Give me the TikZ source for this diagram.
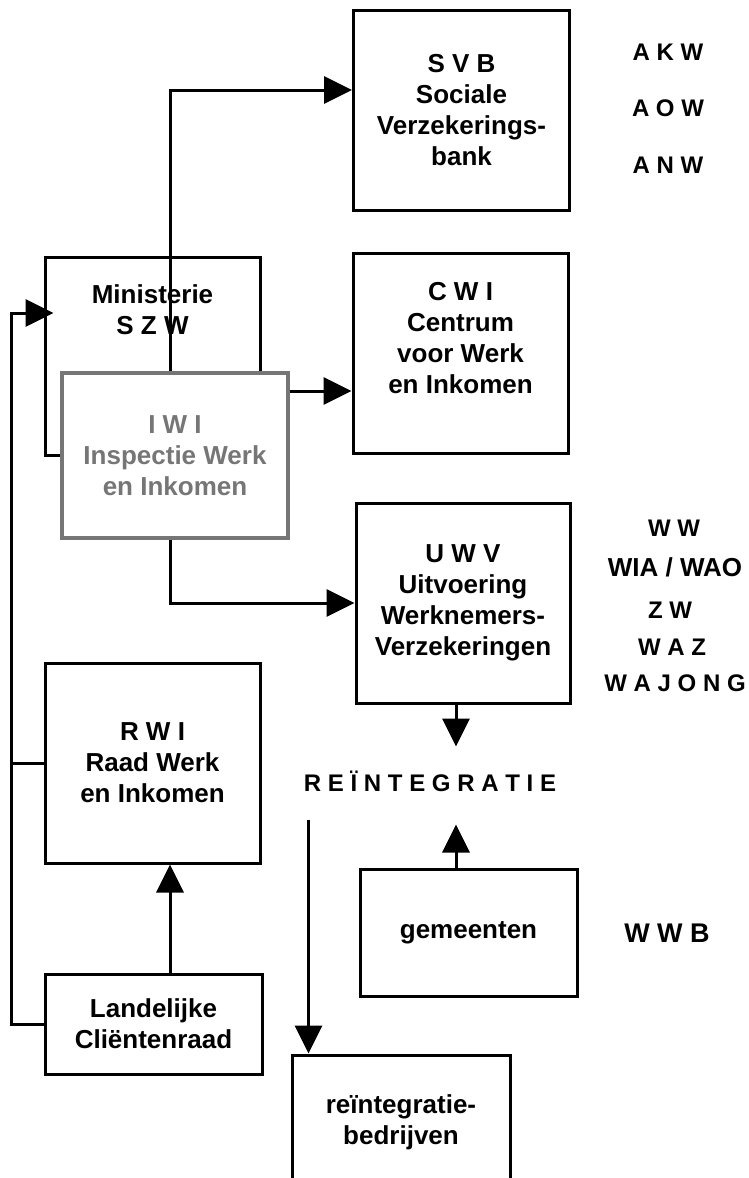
\documentclass[tikz,border=0pt]{standalone}
\usepackage{fontspec}
\setmainfont{Liberation Sans}
\usetikzlibrary{arrows.meta}
\definecolor{iwigray}{RGB}{118,118,118}
\begin{document}
\begin{tikzpicture}[x=1pt,y=-1pt,line width=3pt,
		every node/.style={font=\bfseries\fontsize{26}{31}\selectfont,align=center,inner sep=0pt},
		box/.style={draw,fill=white,minimum width=216pt},
		law/.style={font=\bfseries\fontsize{24}{28}\selectfont},
		arr/.style={-{Triangle[length=28pt,width=27pt]}}]
\useasboundingbox (0,0) rectangle (748,1178);
\clip (0,0) rectangle (748,1178);
% boxes
\node[box,minimum height=200pt] (svb) at (461.5,110) {S V B\\Sociale\\Verzekerings-\\bank};
\node[box,minimum width=215pt,minimum height=198pt] (szw) at (152.5,356) {Ministerie\\S Z W\\ \\ \\ };
\node[box,minimum width=215pt,minimum height=200pt] (cwi) at (460.5,353) {C W I\\Centrum\\voor Werk\\en Inkomen\\ };
\node[box,draw=iwigray,text=iwigray,line width=4pt,minimum width=226pt,minimum height=165pt] (iwi) at (175,455.5) {I W I\\Inspectie Werk\\en Inkomen};
\node[box,minimum width=214pt,minimum height=200pt] (uwv) at (463,603) {U W V\\Uitvoering\\Werknemers-\\Verzekeringen};
\node[box,minimum width=215pt,minimum height=200pt] (rwi) at (152.5,763) {R W I\\Raad Werk\\en Inkomen};
\node[box,minimum width=217pt,minimum height=100pt] (lcr) at (153.5,1024) {Landelijke\\Cliëntenraad};
\node[box,minimum width=217pt,minimum height=127pt] (gem) at (468.5,933) {gemeenten};
\node[box,minimum width=218pt,minimum height=134pt] (rib) at (401,1122) {reïntegratie-\\bedrijven};
\node[font=\bfseries\fontsize{24}{28}\selectfont,text height=43pt,text depth=32pt] (reint) at (430,785.5) {R E Ï N T E G R A T I E};
% wetten
\node[law] (akw) at (668,52) {A K W};
\node[law] (aow) at (668,108) {A O W};
\node[law] (anw) at (668,165) {A N W};
\node[law] (ww) at (674,528) {W W};
\node[law,font=\bfseries\fontsize{26}{30}\selectfont] (wia) at (675,567) {WIA / WAO};
\node[law] (zw) at (670,610) {Z W};
\node[law] (waz) at (672,647) {W A Z};
\node[law] (wajong) at (675,683) {W A J O N G};
\node[law,font=\bfseries\fontsize{27}{30}\selectfont] (wwb) at (667,933) {W W B};
% pijlen
\draw[arr] ([xshift=-5pt]iwi.north) |- ([yshift=20pt]svb.west);
\draw[arr] ([yshift=-20pt]iwi.north east) coordinate (c1) -- (c1 -| cwi.west);
\draw[arr] ([xshift=-5pt]iwi.south) |- (uwv.west);
\draw[arr] ([xshift=-7pt]uwv.south) coordinate (c2) -- (c2 |- reint.north);
\draw[arr] ([xshift=-12.5pt]gem.north) coordinate (c3) -- (c3 |- reint.south);
\draw ([xshift=18pt]rib.north west) coordinate (c4);
\draw[arr] ([yshift=5pt]c4 |- reint.south) -- (c4);
\draw[arr] ([xshift=16.5pt]lcr.north) coordinate (c5) -- (c5 |- rwi.south);
\draw[arr,shorten >=-10pt] (lcr.west) -- ++(-32,0) coordinate (c6) |- ([yshift=43pt]szw.west);
\draw (rwi.west) -- (rwi.west -| c6);
\end{tikzpicture}
\end{document}
